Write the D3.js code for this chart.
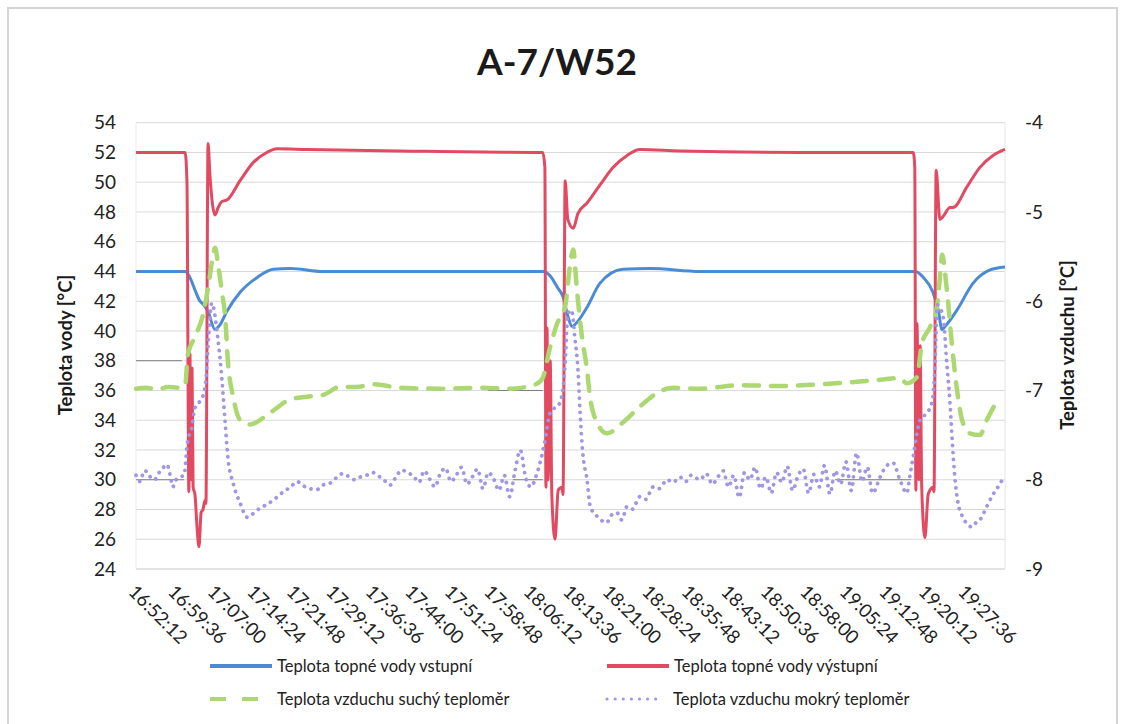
<!DOCTYPE html>
<html><head><meta charset="utf-8">
<script src="https://cdn.jsdelivr.net/npm/d3@7"></script>
<style>
html,body{margin:0;padding:0;background:#fff;}
svg{display:block;font-family:Lato,"Noto Sans",sans-serif;}
</style></head>
<body><svg id="c" width="1124" height="724"></svg>
<script>
// ---- DATA ----
const title = "A-7/W52";
const leftTitle = "Teplota vody [°C]";
const rightTitle = "Teplota vzduchu [°C]";
// category labels (every 7.4 min = 444 s from 16:52:12)
const timeLabels = ["16:52:12","16:59:36","17:07:00","17:14:24","17:21:48","17:29:12","17:36:36","17:44:00","17:51:24","17:58:48","18:06:12","18:13:36","18:21:00","18:28:24","18:35:48","18:43:12","18:50:36","18:58:00","19:05:24","19:12:48","19:20:12","19:27:36"];
const labelStepMin = 7.4;
const timeSpanMin = 162.8;
const leftTicks = [24,26,28,30,32,34,36,38,40,42,44,46,48,50,52,54];
const rightTicks = [-9,-8,-7,-6,-5,-4];
const seriesNames = ["Teplota topné vody vstupní","Teplota topné vody výstupní","Teplota vzduchu suchý teploměr","Teplota vzduchu mokrý teploměr"];

// [minutes from 16:52:12, value]
const inletWater = [[0,44.0],[9.2,44.0],[10.1,43.6],[11.0,42.8],[12.0,42.0],[12.6,41.8],[13.5,41.3],[14.8,40.1],[15.7,40.4],[17.0,41.3],[19.5,42.6],[22.7,43.6],[25.7,44.15],[28.9,44.2],[35.0,44.0],[76.3,44.0],[77.6,43.7],[79.0,42.9],[80.0,42.3],[80.9,41.0],[81.7,40.3],[82.4,40.5],[84.5,41.6],[86.9,43.2],[91.2,44.15],[96.3,44.2],[105.7,44.0],[146.0,44.0],[147.5,43.6],[149.3,42.6],[150.3,41.4],[151.0,40.1],[151.8,40.4],[153.8,41.4],[156.8,43.2],[160.0,44.1],[162.8,44.3]];
const outletWater = [[0,52.0],[9.2,52.0],[9.55,50.0],[9.9,29.2],[10.1,38.5],[10.3,30.0],[10.5,37.5],[10.7,29.5],[11.05,29.0],[11.4,27.0],[11.8,25.5],[12.2,27.8],[12.55,28.0],[12.93,28.6],[13.1,28.4],[13.5,52.6],[13.85,50.5],[14.24,48.8],[14.8,47.8],[15.4,48.3],[16.1,48.7],[17.05,48.8],[19.5,50.1],[21.9,51.3],[24.5,52.0],[26.4,52.25],[32.0,52.2],[49.5,52.1],[75.7,52.0],[76.2,52.0],[76.6,51.0],[76.8,29.5],[77.0,40.2],[77.2,30.0],[77.6,38.0],[77.9,29.0],[78.5,26.0],[79.1,29.3],[79.8,29.5],[80.0,29.0],[80.4,50.1],[80.9,47.5],[81.9,46.9],[82.8,47.9],[84.5,48.6],[86.9,49.8],[89.4,51.0],[92.0,51.8],[94.4,52.2],[101.9,52.1],[124.4,52.0],[145.6,52.0],[145.9,51.0],[146.1,29.3],[146.3,40.5],[146.7,30.0],[146.9,39.0],[147.2,29.5],[147.8,26.1],[148.4,29.0],[148.75,29.3],[149.3,29.5],[149.5,29.2],[149.9,50.8],[150.6,47.5],[151.2,47.7],[152.5,48.3],[153.05,48.3],[155.7,49.7],[158.1,51.0],[160.55,51.8],[162.8,52.2]];
const dryBulb = [[0,-6.98],[2,-6.97],[4,-6.99],[6,-6.96],[8,-6.97],[9.2,-6.95],[9.7,-6.6],[11.05,-6.4],[12.55,-6.15],[13.5,-5.85],[14.4,-5.5],[14.8,-5.4],[15.4,-5.6],[16.1,-5.9],[16.7,-6.17],[17.2,-6.66],[18.2,-7.07],[19.5,-7.33],[21.4,-7.38],[25.1,-7.25],[28.9,-7.1],[32.0,-7.07],[35.0,-7.05],[38.2,-6.96],[41.4,-6.96],[44.4,-6.93],[49.5,-6.97],[56.9,-6.98],[64.4,-6.97],[70.1,-6.98],[73.8,-6.95],[75.7,-6.9],[76.2,-6.86],[77.6,-6.51],[78.9,-6.25],[80.4,-6.06],[81.3,-5.6],[81.9,-5.42],[82.6,-5.87],[83.55,-6.4],[84.5,-6.77],[85.05,-7.07],[86.4,-7.36],[88.2,-7.48],[91.2,-7.36],[94.4,-7.18],[97.6,-7.03],[100.6,-6.97],[105.7,-6.98],[113.2,-6.94],[120.6,-6.95],[128.1,-6.93],[135.6,-6.9],[139.4,-6.88],[143.1,-6.86],[144.4,-6.92],[146.3,-6.85],[147.25,-6.47],[148.75,-6.29],[150.06,-6.06],[150.8,-5.6],[151.0,-5.48],[151.9,-5.87],[152.9,-6.51],[153.8,-6.99],[154.9,-7.36],[156.2,-7.48],[158.1,-7.5],[159.4,-7.33],[160.9,-7.16]];
const wetBulb = [[0,-7.95],[0.8,-8.02],[1.5,-7.9],[2.1,-7.91],[2.8,-7.98],[3.5,-8.0],[4.2,-7.93],[4.9,-7.88],[5.8,-7.83],[6.4,-7.95],[6.9,-8.08],[7.5,-8.0],[8.2,-7.97],[9.0,-7.95],[9.6,-7.6],[10.5,-7.4],[11.0,-7.2],[12.5,-7.07],[13.2,-6.8],[13.5,-6.5],[14.2,-6.02],[15.3,-6.4],[16.1,-6.88],[16.7,-7.36],[17.2,-7.74],[18.2,-8.04],[19.5,-8.26],[20.8,-8.42],[22.7,-8.34],[25.7,-8.23],[27.5,-8.14],[29.0,-8.08],[30.2,-8.02],[31.0,-8.05],[32.0,-8.09],[33.9,-8.11],[35.0,-8.06],[36.3,-8.04],[37.5,-7.98],[38.8,-7.93],[40.0,-7.97],[41.0,-8.0],[42.0,-7.97],[43.2,-7.95],[44.4,-7.92],[45.2,-7.95],[46.4,-8.0],[47.6,-8.06],[48.6,-7.98],[49.8,-7.89],[50.8,-7.92],[52,-7.96],[53,-8.03],[54,-7.9],[55,-7.99],[56,-8.08],[57,-7.93],[58,-7.87],[59,-8.02],[60,-7.95],[61,-7.86],[62,-8.05],[63,-7.97],[64,-7.88],[65,-8.1],[66,-7.92],[67,-7.99],[68,-8.12],[69,-7.95],[70,-8.19],[71,-7.9],[72,-7.67],[73,-7.98],[74,-8.08],[75,-7.95],[75.7,-7.81],[76.5,-7.6],[77.6,-7.25],[79.4,-7.14],[80.4,-6.7],[80.9,-6.14],[81.6,-6.1],[82.2,-6.4],[82.8,-6.77],[83.2,-7.25],[83.7,-7.7],[84.5,-8.0],[85.1,-8.3],[86.4,-8.41],[88.2,-8.48],[89.0,-8.4],[90.1,-8.37],[91.0,-8.45],[92.0,-8.3],[93.0,-8.33],[94.4,-8.19],[95.5,-8.22],[96.9,-8.08],[98.0,-8.1],[99.5,-8.0],[100.6,-8.03],[101.9,-7.97],[103,-8.02],[104,-7.95],[105.7,-8.0],[106.8,-7.93],[108,-8.05],[109,-7.97],[110,-7.9],[111,-8.08],[112,-7.95],[113,-8.2],[114,-7.92],[115,-8.0],[116,-7.86],[117,-8.1],[118,-7.97],[119,-8.15],[120,-7.92],[121,-8.03],[122,-7.85],[123,-8.12],[124,-7.96],[125,-7.88],[126,-8.15],[127,-7.94],[128,-8.08],[129,-7.84],[130,-8.16],[131,-7.9],[132,-8.05],[133,-7.8],[134,-8.12],[135,-7.7],[136,-8.02],[137,-7.86],[138,-8.15],[139.4,-7.97],[140.5,-7.85],[141.8,-7.81],[143.1,-8.0],[144.4,-8.15],[145.0,-7.95],[145.6,-7.74],[146.9,-7.33],[148.2,-7.25],[149.1,-7.14],[149.7,-6.7],[150.1,-6.04],[150.6,-6.08],[151.2,-6.17],[151.9,-6.7],[152.5,-7.14],[152.9,-7.55],[153.4,-7.97],[154.0,-8.26],[154.9,-8.42],[155.8,-8.5],[156.6,-8.53],[157.4,-8.48],[158.1,-8.45],[159.4,-8.3],[160.5,-8.17],[161.5,-8.08],[162.3,-8.0]];
// faint thin dark remnants visible behind the series: [startMin, endMin, leftValue]
const thinSegments = [[0,8.6,38],[0,9.0,30],[66,76.2,36],[70.6,76.2,30],[131,145.2,30]];

// ---- LAYOUT ----
const P = {l:136, r:1005, t:122.7, b:569};
const colors = ["#4a8bd3","#e24a62","#acd872","#a096e2"];

const svg = d3.select("#c");
// outer frame
svg.append("path").attr("d",`M8,724 V8 H1117 V724`).attr("fill","none").attr("stroke","#d4d4d4").attr("stroke-width",2);

const x = d3.scaleLinear().domain([0,timeSpanMin]).range([P.l,P.r]);
const yL = d3.scaleLinear().domain([24,54]).range([P.b,P.t]);
const yR = d3.scaleLinear().domain([-9,-4]).range([P.b,P.t]);

// gridlines
svg.append("g").selectAll("line").data(leftTicks.slice(1)).join("line")
  .attr("x1",P.l).attr("x2",P.r).attr("y1",d=>yL(d)).attr("y2",d=>yL(d))
  .attr("stroke","#d9d9d9").attr("stroke-width",1);
svg.append("line").attr("x1",P.l).attr("x2",P.r).attr("y1",P.b).attr("y2",P.b).attr("stroke","#c8c8c8").attr("stroke-width",1.2);
svg.append("line").attr("x1",P.l).attr("x2",P.l).attr("y1",P.t).attr("y2",P.b).attr("stroke","#ececec");
svg.append("line").attr("x1",P.r).attr("x2",P.r).attr("y1",P.t).attr("y2",P.b).attr("stroke","#e4e4e4");

// left axis
const gl = svg.append("g").attr("transform",`translate(${P.l},0)`)
  .call(d3.axisLeft(yL).tickValues(leftTicks).tickSize(0).tickPadding(20));
gl.select(".domain").remove();
gl.selectAll("text").attr("font-size",19).attr("fill","#222").attr("font-family","Lato");
// right axis
const gr = svg.append("g").attr("transform",`translate(${P.r},0)`)
  .call(d3.axisRight(yR).tickValues(rightTicks).tickSize(0).tickPadding(20).tickFormat(d=>String(d).replace("−","-")));
gr.select(".domain").remove();
gr.selectAll("text").attr("font-size",19).attr("fill","#222").attr("font-family","Lato");

// bottom axis
const gb = svg.append("g").attr("transform",`translate(0,${P.b})`)
  .call(d3.axisBottom(x).tickValues(timeLabels.map((d,i)=>i*labelStepMin)).tickSize(0).tickFormat((d,i)=>timeLabels[i]));
gb.select(".domain").remove();
gb.selectAll("text").attr("font-size",18.5).attr("fill","#222").attr("font-family","Lato")
  .attr("text-anchor","start").attr("dy",null).attr("y",0)
  .attr("transform","translate(-9,24) rotate(45)");

// faint remnants
svg.append("g").selectAll("line").data(thinSegments).join("line")
  .attr("x1",d=>x(d[0])).attr("x2",d=>x(d[1])).attr("y1",d=>yL(d[2])).attr("y2",d=>yL(d[2]))
  .attr("stroke","#555").attr("stroke-width",1).attr("opacity",0.7);

// series
const lineL = d3.line().x(d=>x(d[0])).y(d=>yL(d[1])).curve(d3.curveMonotoneX);
const lineR = d3.line().x(d=>x(d[0])).y(d=>yR(d[1])).curve(d3.curveMonotoneX);
const plot = svg.append("g");
plot.append("path").attr("d",lineL(inletWater)).attr("fill","none").attr("stroke",colors[0]).attr("stroke-width",3).attr("stroke-linejoin","round");
plot.append("path").attr("d",lineL(outletWater)).attr("fill","none").attr("stroke",colors[1]).attr("stroke-width",3).attr("stroke-linejoin","round");
plot.append("path").attr("d",lineR(dryBulb)).attr("fill","none").attr("stroke",colors[2]).attr("stroke-width",4.5).attr("stroke-dasharray","15 12").attr("stroke-linecap","round");
plot.append("path").attr("d",lineR(wetBulb)).attr("fill","none").attr("stroke",colors[3]).attr("stroke-width",3.8).attr("stroke-dasharray","0.1 7").attr("stroke-linecap","round");

// titles
svg.append("text").attr("x",557).attr("y",75).attr("text-anchor","middle").attr("font-size",37).attr("font-weight","bold").attr("fill","#1a1a1a").text(title);
svg.append("text").attr("transform","translate(72,345) rotate(-90)").attr("text-anchor","middle").attr("font-size",18.5).attr("font-weight","bold").attr("fill","#1a1a1a").text(leftTitle);
svg.append("text").attr("transform","translate(1074,345) rotate(-90)").attr("text-anchor","middle").attr("font-size",18.5).attr("font-weight","bold").attr("fill","#1a1a1a").text(rightTitle);

// legend
const legPos = [[210,666],[607,666],[210,699],[607,699]];
const lg = svg.append("g");
seriesNames.forEach((name,i)=>{
  const [lx,ly] = legPos[i];
  const g = lg.append("g").attr("transform",`translate(${lx},${ly})`);
  const seg = g.append("line").attr("x1",0).attr("x2",62).attr("y1",0).attr("y2",0).attr("stroke",colors[i]);
  if(i<2) seg.attr("stroke-width",4);
  if(i===2) seg.attr("x2",48).attr("stroke-width",4).attr("stroke-dasharray","16 16");
  if(i===3) seg.attr("x2",56).attr("stroke-width",3).attr("stroke-dasharray","0.1 8").attr("stroke-linecap","round");
  g.append("text").attr("x",i===3?66:67).attr("y",5.5).attr("font-size",16.5).attr("fill","#222").text(name);
});
</script>
</body></html>
